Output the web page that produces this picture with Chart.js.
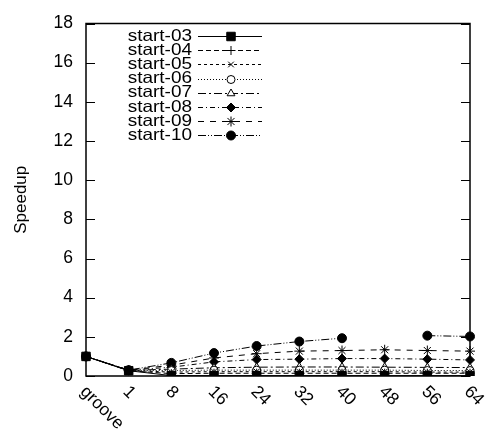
<!DOCTYPE html>
<html>
<head>
<meta charset="utf-8">
<script src="https://cdn.jsdelivr.net/npm/chart.js@4/dist/chart.umd.min.js"></script>
<style>
  html, body { margin: 0; padding: 0; background: #fff; }
  #wrap { width: 488px; height: 432px; }
</style>
</head>
<body>
<div id="wrap"><canvas id="c" width="488" height="432"></canvas></div>
<script>
// ── Data ───────────────────────────────────────────────
const CATEGORIES = ['groove', '1', '8', '16', '24', '32', '40', '48', '56', '64'];
const SERIES = ['start-03', 'start-04', 'start-05', 'start-06', 'start-07', 'start-08', 'start-09', 'start-10'];

const start03 = [1.0, 0.27, 0.02, 0.02, 0.02, 0.02, 0.02, 0.02, 0.02, 0.02];
const start04 = [1.0, 0.27, 0.12, 0.14, 0.14, 0.14, 0.14, 0.14, 0.14, 0.14];
const start05 = [1.0, 0.28, 0.20, 0.22, 0.22, 0.22, 0.22, 0.22, 0.20, 0.20];
const start06 = [1.0, 0.28, 0.28, 0.30, 0.30, 0.30, 0.30, 0.30, 0.28, 0.28];
const start07 = [1.0, 0.29, 0.35, 0.42, 0.45, 0.46, 0.46, 0.45, 0.44, 0.43];
const start08 = [1.0, 0.30, 0.45, 0.72, 0.84, 0.86, 0.89, 0.89, 0.86, 0.82];
const start09 = [1.0, 0.30, 0.55, 0.92, 1.14, 1.27, 1.30, 1.34, 1.30, 1.27];
const start10 = [1.0, 0.30, 0.67, 1.17, 1.53, 1.76, 1.93, null, 2.06, 2.02];

const Y_MIN = 0, Y_MAX = 18, Y_STEP = 2;

// ── Styles ─────────────────────────────────────────────
const FONT = '"Liberation Sans", Arial, Helvetica, sans-serif';
const STYLES = [
  { dash: [],                  point: 'rect',     r: 6,   fill: true  },
  { dash: [5, 3],              point: 'cross',    r: 4.5, fill: false },
  { dash: [3, 3],              point: 'crossRot', r: 4,   fill: false },
  { dash: [1, 2],              point: 'circle',   r: 4,   fill: false },
  { dash: [8, 3, 2, 3],        point: 'triangle', r: 4.5, fill: false },
  { dash: [5, 3, 1, 3],        point: 'rectRot',  r: 4.5, fill: true  },
  { dash: [6, 6],              point: 'star',     r: 5,   fill: false },
  { dash: [8, 2, 1, 2, 1, 2],  point: 'circle',   r: 4.5, fill: true  }
];
const VALUES = [start03, start04, start05, start06, start07, start08, start09, start10];

const datasets = SERIES.map((name, i) => ({
  label: name,
  data: VALUES[i],
  borderColor: '#000',
  borderWidth: 1,
  borderDash: STYLES[i].dash,
  pointStyle: STYLES[i].point,
  pointRadius: STYLES[i].r,
  pointBorderColor: '#000',
  pointBorderWidth: 1,
  pointBackgroundColor: STYLES[i].fill ? '#000' : '#fff',
  tension: 0,
  spanGaps: false,
  fill: false
}));

// ── Frame, inward ticks, rotated x labels, legend ──────
const gnuplotLook = {
  id: 'gnuplotLook',
  beforeDatasetsDraw(chart) {
    const { ctx, chartArea: a } = chart;
    ctx.save();
    ctx.strokeStyle = '#000';
    ctx.lineWidth = 1.5;
    ctx.strokeRect(a.left, a.top, a.right - a.left, a.bottom - a.top);
    // inward y ticks, left and right
    const y = chart.scales.y;
    ctx.lineWidth = 1;
    y.ticks.forEach(t => {
      const py = Math.round(y.getPixelForValue(t.value)) + 0.5;
      ctx.beginPath();
      ctx.moveTo(a.left, py); ctx.lineTo(a.left + 9, py);
      ctx.moveTo(a.right, py); ctx.lineTo(a.right - 9, py);
      ctx.stroke();
    });
    ctx.restore();
  },
  afterDraw(chart) {
    const { ctx } = chart;
    const x = chart.scales.x;
    ctx.save();
    ctx.fillStyle = '#000';
    ctx.font = '17.5px ' + FONT;
    ctx.textAlign = 'left';
    ctx.textBaseline = 'middle';
    chart.data.labels.forEach((lab, i) => {
      const px = x.getPixelForValue(i);
      ctx.save();
      ctx.translate(px - 3, 389);
      ctx.rotate(Math.PI / 4);
      ctx.fillText(lab, 0, 0);
      ctx.restore();
    });

    // legend (text a bit wider, like the original renderer)
    ctx.font = '16.5px ' + FONT;
    chart.data.datasets.forEach((ds, i) => {
      const ly = 36 + i * 14.2;
      ctx.fillStyle = '#000';
      ctx.textAlign = 'right';
      ctx.save();
      ctx.translate(192, ly);
      ctx.scale(1.15, 1);
      ctx.fillText(ds.label, 0, 0);
      ctx.restore();
      ctx.strokeStyle = '#000';
      ctx.lineWidth = 1;
      ctx.setLineDash(ds.borderDash);
      ctx.beginPath();
      ctx.moveTo(198, Math.round(ly) + 0.5); ctx.lineTo(262, Math.round(ly) + 0.5);
      ctx.stroke();
      ctx.setLineDash([]);
      ctx.fillStyle = ds.pointBackgroundColor;
      if (Chart.helpers && Chart.helpers.drawPoint) {
        Chart.helpers.drawPoint(ctx, {
          pointStyle: ds.pointStyle, radius: ds.pointRadius, rotation: 0, borderWidth: 1
        }, 231, Math.round(ly) + 0.5);
      }
    });
    ctx.restore();
  }
};

new Chart(document.getElementById('c'), {
  type: 'line',
  data: { labels: CATEGORIES, datasets },
  plugins: [gnuplotLook],
  options: {
    responsive: false,
    animation: false,
    layout: { padding: { top: 18, right: 18, left: 0, bottom: 0 } },
    plugins: { legend: { display: false }, tooltip: { enabled: false } },
    scales: {
      x: {
        type: 'category',
        offset: false,
        grid: { display: false, drawTicks: false },
        border: { display: false },
        ticks: { display: false },
        afterFit: s => { s.height = 56; }
      },
      y: {
        min: Y_MIN, max: Y_MAX,
        grid: { display: false, drawTicks: false },
        border: { display: false },
        ticks: { stepSize: Y_STEP, padding: 13, color: '#000', font: { family: FONT, size: 17.5 } },
        title: {
          display: true, text: 'Speedup', color: '#000',
          font: { family: FONT, size: 17 },
          padding: { top: 11, bottom: 0 }
        },
        afterFit: s => { s.width = 86; }
      }
    }
  }
});
</script>
</body>
</html>
